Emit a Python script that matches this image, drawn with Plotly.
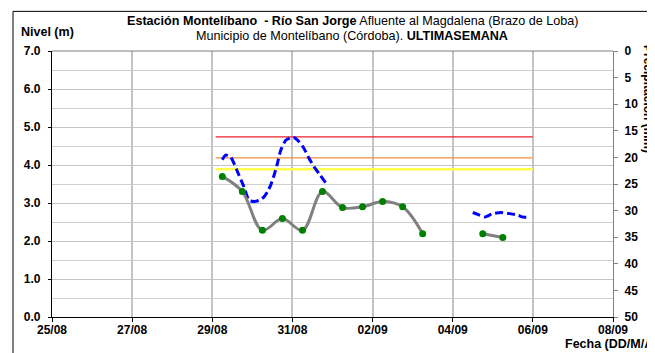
import plotly.graph_objects as go

# ---- data ----
nivel_times = ["2023-08-29 06:00", "2023-08-29 18:00", "2023-08-30 06:00", "2023-08-30 18:00",
               "2023-08-31 06:00", "2023-08-31 18:00", "2023-09-01 06:00", "2023-09-01 18:00",
               "2023-09-02 06:00", "2023-09-02 18:00", "2023-09-03 06:00", "2023-09-03 18:00",
               "2023-09-04 06:00", "2023-09-04 18:00", "2023-09-05 06:00"]
nivel_values = [3.70, 3.30, 2.28, 2.59, 2.28, 3.30, 2.88, 2.90, 3.04, 2.90, 2.19, None, None, 2.19, 2.09]

auto_times = ["2023-08-29 06:00", "2023-08-29 08:00", "2023-08-29 11:00", "2023-08-29 13:00",
              "2023-08-29 16:00", "2023-08-29 19:00", "2023-08-29 22:00", "2023-08-30 01:00",
              "2023-08-30 04:00", "2023-08-30 07:00", "2023-08-30 09:00", "2023-08-30 11:00",
              "2023-08-30 13:00", "2023-08-30 15:00", "2023-08-30 17:00", "2023-08-30 20:00",
              "2023-08-30 23:00", "2023-08-31 01:00", "2023-08-31 04:00", "2023-08-31 07:00",
              "2023-08-31 10:00", "2023-08-31 13:00", "2023-08-31 16:00", "2023-08-31 20:00",
              "2023-09-02 00:00",
              "2023-09-04 12:00", "2023-09-04 15:00", "2023-09-04 19:00", "2023-09-05 00:00",
              "2023-09-05 05:00", "2023-09-05 10:00", "2023-09-05 15:00", "2023-09-05 18:00",
              "2023-09-05 22:00"]
auto_values = [4.14, 4.26, 4.21, 4.04, 3.73, 3.42, 3.07, 3.04, 3.07, 3.16, 3.29, 3.47,
               3.73, 4.04, 4.39, 4.65, 4.72, 4.72, 4.61, 4.43, 4.17, 3.95, 3.77, 3.53,
               None,
               2.75, 2.70, 2.63, 2.72, 2.75, 2.72, 2.68, 2.63, 2.63]

umbral_times = ["2023-08-29 02:00", "2023-09-06 00:00"]
umbral_rojo = [4.74, 4.74]
umbral_naranja = [4.19, 4.19]
umbral_amarillo = [3.89, 3.89]

precip_times = ["2023-08-29 06:00"]
precip_values = [None]

x_range = ["2023-08-25", "2023-09-08"]
font = "Liberation Sans, Arial, sans-serif"

fig = go.Figure()

fig.add_trace(go.Scatter(x=umbral_times, y=umbral_rojo, mode="lines",
                         line=dict(color="#E8202A", width=1.3), hoverinfo="skip"))
fig.add_trace(go.Scatter(x=umbral_times, y=umbral_naranja, mode="lines",
                         line=dict(color="#F09040", width=1.3), hoverinfo="skip"))
fig.add_trace(go.Scatter(x=umbral_times, y=umbral_amarillo, mode="lines",
                         line=dict(color="#FFFF50", width=2.5), hoverinfo="skip"))

fig.add_trace(go.Scatter(x=auto_times, y=auto_values, mode="lines", connectgaps=False,
                         line=dict(color="#0000FF", width=3, dash="8px,4px",
                                   shape="spline", smoothing=0.6)))

fig.add_trace(go.Scatter(x=nivel_times, y=nivel_values, mode="lines+markers", connectgaps=False,
                         line=dict(color="#808080", width=3, shape="spline", smoothing=1.0),
                         marker=dict(color="#008000", size=7)))

fig.add_trace(go.Scatter(x=precip_times, y=precip_values, yaxis="y2", mode="markers",
                         marker=dict(color="#0000FF"), hoverinfo="skip"))

tickfont = dict(family=font, size=12, color="black", weight="bold")

fig.update_layout(
    width=647, height=345,
    margin=dict(l=44, r=42, t=43, b=36),
    paper_bgcolor="white", plot_bgcolor="white",
    showlegend=False,
    font=dict(family=font, size=11, color="black"),
    xaxis=dict(type="date", range=x_range, tick0="2023-08-25", dtick=2 * 86400000,
               tickformat="%d/%m", showgrid=True, gridcolor="#c4c4c4", gridwidth=1.5,
               showline=True, linecolor="black", linewidth=1.2,
               ticks="outside", ticklen=4, tickcolor="black", ticklabelstandoff=-3,
               tickfont=tickfont, mirror=False, zeroline=False, fixedrange=True,
               automargin=False),
    yaxis=dict(range=[0, 7], dtick=1, tickformat=".1f", showgrid=True, gridcolor="#c4c4c4",
               gridwidth=1.2,
               minor=dict(dtick=0.5, showgrid=True, gridcolor="#d0d0d0", gridwidth=1.2),
               showline=True, linecolor="black", linewidth=1.2,
               ticks="outside", ticklen=3, tickcolor="black", ticklabelstandoff=5,
               tickfont=tickfont, zeroline=False, fixedrange=True, automargin=False),
    yaxis2=dict(overlaying="y", side="right", range=[50, 0], dtick=5, showgrid=False,
                showline=True, linecolor="#808080", linewidth=1.2,
                ticks="outside", ticklen=4, tickcolor="#808080", ticklabelstandoff=4,
                tickfont=tickfont, zeroline=False, fixedrange=True, automargin=False),
)

# grey plot frame (top)
fig.add_shape(type="line", xref="paper", yref="paper", x0=0, x1=1, y0=1, y1=1,
              line=dict(color="#808080", width=1.2))

# outer chart border
fig.add_shape(type="rect", xref="paper", yref="paper", x0=-0.0695, x1=1.3, y0=-0.4, y1=1.149,
              line=dict(color="black", width=1), fillcolor="rgba(0,0,0,0)")

fig.add_annotation(xref="paper", yref="paper", x=0.535, y=1.1135, xanchor="center", yanchor="middle",
                   showarrow=False,
                   text="<b>Estación Montelíbano  - Río San Jorge</b> Afluente al Magdalena (Brazo de Loba)",
                   font=dict(family=font, size=12.6, color="black"))
fig.add_annotation(xref="paper", yref="paper", x=0.535, y=1.056, xanchor="center", yanchor="middle",
                   showarrow=False,
                   text="Municipio de Montelíbano (Córdoba). <b>ULTIMASEMANA</b>",
                   font=dict(family=font, size=12.6, color="black"))
fig.add_annotation(xref="paper", yref="paper", x=-0.058, y=1.07, xanchor="left", yanchor="middle",
                   showarrow=False, text="<b>Nivel (m)</b>",
                   font=dict(family=font, size=12.5, color="black"))
fig.add_annotation(xref="paper", yref="paper", x=0.911, y=-0.103, xanchor="left", yanchor="middle",
                   showarrow=False, text="<b>Fecha (DD/M/AAAA)</b>",
                   font=dict(family=font, size=12.5, color="black"))
fig.add_annotation(xref="paper", yref="paper", x=1.0624, y=1.03, xanchor="center", yanchor="top",
                   showarrow=False, textangle=90, text="<b>Precipitación (mm)</b>",
                   font=dict(family=font, size=12, color="black"))

fig.write_html("out.html")
